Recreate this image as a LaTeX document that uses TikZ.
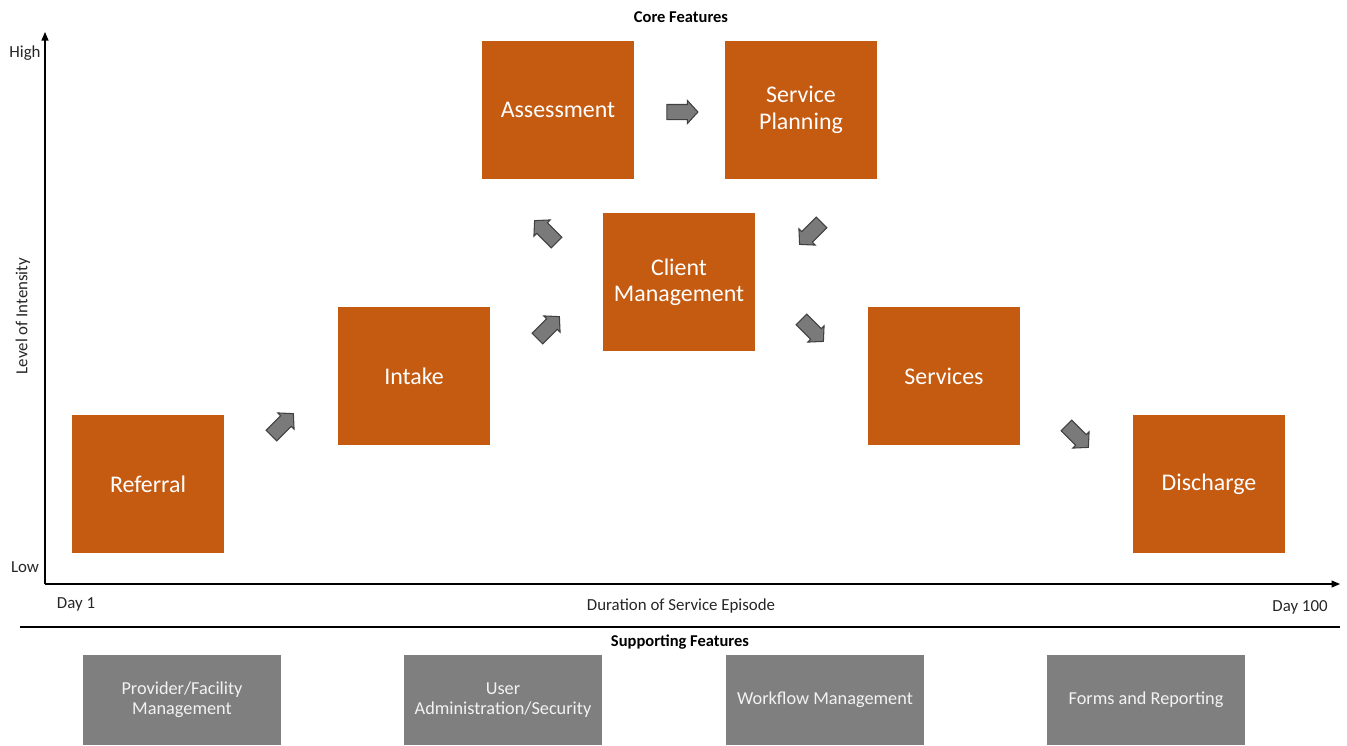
\documentclass[tikz,border=0pt]{standalone}
\usepackage{fontspec}
\setmainfont{Carlito}
\usetikzlibrary{positioning,arrows.meta,shapes.arrows}
\definecolor{corefill}{HTML}{C55A11}
\definecolor{supfill}{HTML}{7F7F7F}
\definecolor{suptext}{HTML}{F2F2F2}
\definecolor{stepgray}{HTML}{7A7A7A}

\begin{document}
\begin{tikzpicture}[x=0.02cm,y=-0.02cm,
  core/.style={fill=corefill,text=white,minimum width=3.04cm,minimum height=2.78cm,
    align=center,font=\fontsize{13.6}{15}\selectfont,inner sep=2pt},
  support/.style={fill=supfill,text=suptext,minimum width=3.96cm,minimum height=1.8cm,
    align=center,font=\fontsize{10.4}{11.5}\selectfont},
  flow/.style={single arrow,fill=stepgray,draw=black!75,line width=0.6pt,inner sep=0.14cm,
    minimum height=0.62cm,single arrow head extend=0.08cm,single arrow tip angle=95},
  lbl/.style={font=\fontsize{9.6}{11}\selectfont,text=black!85},
  head/.style={font=\bfseries\fontsize{9.4}{11}\selectfont}]
\useasboundingbox (0,0) rectangle (1347,745);

% axes
\coordinate (origin) at (45,584);
\coordinate (ytop) at (45,32);
\coordinate (xend) at (1340,584);
\draw[-{Triangle[length=1.7mm,width=1.4mm]},line width=0.6pt] (origin) -- (ytop);
\draw[-{Triangle[length=1.7mm,width=1.4mm]},line width=0.6pt] (origin) -- (xend);
\node[lbl] (high) at (25,53) {High};
\node[lbl] (low) at (25,567) {Low};
\node[lbl,rotate=90] (intensity) at (23,316) {Level of Intensity};
\node[lbl] (day1) at (76,604) {Day 1};
\node[lbl] (duration) at (681,606) {Duration of Service Episode};
\node[lbl] (day100) at (1300,607) {Day 100};
\node[head] (coretitle) at (681,17) {Core Features};

% core features
\node[core] (referral) at (148,484) {Referral};
\node[core] (intake) at (414,376) {Intake};
\node[core] (assessment) at (558,110) {Assessment};
\node[core] (planning) at (801,110) {Service\\Planning};
\node[core] (client) at (679,282) {Client\\Management};
\node[core] (services) at (944,376) {Services};
\node[core] (discharge) at (1209,484) {Discharge};

% steps between them
\node[flow,rotate=45] (a1) at (280,427) {};
\node[flow,rotate=45] (a2) at (546,330) {};
\node[flow,rotate=135] (a3) at (548,234) {};
\node[flow] (a4) at (679,112) {};
\node[flow,rotate=225] (a5) at (813,231) {};
\node[flow,rotate=-45] (a6) at (810,328) {};
\node[flow,rotate=-45] (a7) at (1075,434) {};

% supporting features
\coordinate (sepl) at (20,627);
\coordinate (sepr) at (1340,627);
\draw[line width=0.6pt] (sepl) -- (sepr);
\node[head] (suptitle) at (680,642) {Supporting Features};
\node[support] (provider) at (182,700) {Provider/Facility\\Management};
\node[support] (useradmin) at (503,700) {User\\Administration/Security};
\node[support] (workflow) at (825,700) {Workflow Management};
\node[support] (forms) at (1146,700) {Forms and Reporting};
\end{tikzpicture}
\end{document}
